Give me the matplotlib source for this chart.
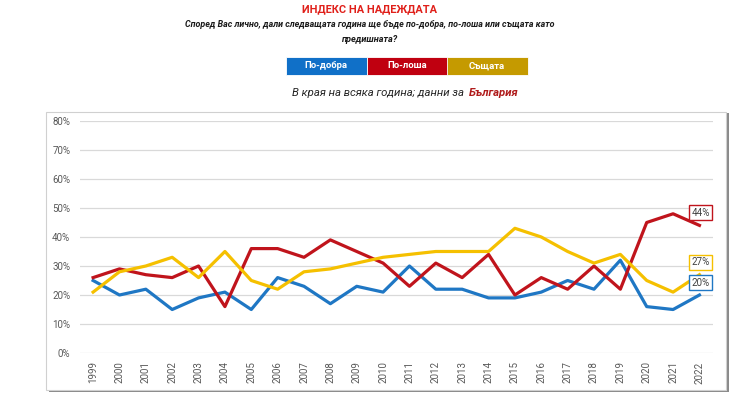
import matplotlib.pyplot as plt
from matplotlib.patches import Rectangle
from matplotlib.ticker import PercentFormatter

plt.rcParams['font.family'] = ['Roboto', 'DejaVu Sans']

years = [str(y) for y in range(1999, 2023)]
po_dobra = [25, 20, 22, 15, 19, 21, 15, 26, 23, 17, 23, 21, 30, 22, 22, 19, 19, 21, 25, 22, 32, 16, 15, 20]
po_losha = [26, 29, 27, 26, 30, 16, 36, 36, 33, 39, 35, 31, 23, 31, 26, 34, 20, 26, 22, 30, 22, 45, 48, 44]
sashtata = [21, 28, 30, 33, 26, 35, 25, 22, 28, 29, 31, 33, 34, 35, 35, 35, 43, 40, 35, 31, 34, 25, 21, 27]

series_names = ['По-добра', 'По-лоша', 'Същата']
line_colors = ['#1F77C4', '#C0141C', '#F5C000']
legend_colors = ['#1070C8', '#C00010', '#C59A00']

fig = plt.figure(figsize=(7.4, 3.94), dpi=100)

# frame around the chart area
fig.patches.append(Rectangle((0.066, 0.004), 0.919, 0.708, transform=fig.transFigure,
                             facecolor='#8a8a8a', edgecolor='none', zorder=-2))
fig.patches.append(Rectangle((0.062, 0.010), 0.919, 0.706, transform=fig.transFigure,
                             facecolor='white', edgecolor='#d0d0d0', linewidth=0.8, zorder=-1))

ax = fig.add_axes([0.108, 0.104, 0.855, 0.589])
ax.set_facecolor('none')
ax.set_zorder(2)

x = range(len(years))
for vals, col in zip([po_dobra, po_losha, sashtata], line_colors):
    ax.plot(x, vals, color=col, linewidth=2.3)

# end labels
for vals, col in zip([po_losha, sashtata, po_dobra], [line_colors[1], line_colors[2], line_colors[0]]):
    ax.annotate(f'{vals[-1]}%', xy=(len(years) - 1, vals[-1]), xytext=(1, 9),
                textcoords='offset points', ha='center', va='center', fontsize=7,
                color='#404040',
                bbox=dict(boxstyle='square,pad=0.25', facecolor='white', edgecolor=col, linewidth=1))

ax.set_xlim(-0.5, len(years) - 0.5)
ax.set_ylim(0, 80)
ax.set_yticks(range(0, 81, 10))
ax.yaxis.set_major_formatter(PercentFormatter(decimals=0))
ax.set_xticks(list(x))
ax.set_xticklabels(years, rotation=90)
ax.tick_params(axis='both', length=0, labelsize=7, labelcolor='#595959')
ax.tick_params(axis='x', pad=6)
ax.tick_params(axis='y', pad=7)
ax.grid(axis='y', color='#d9d9d9', linewidth=0.9)
ax.set_axisbelow(True)
for s in ax.spines.values():
    s.set_visible(False)

# header
fig.text(0.5, 0.977, 'ИНДЕКС НА НАДЕЖДАТА', ha='center', va='center', fontsize=7.9,
         fontweight='bold', color='#E0201A')
fig.text(0.5, 0.937, 'Според Вас лично, дали следващата година ще бъде по-добра, по-лоша или същата като',
         ha='center', va='center', fontsize=6.4, fontweight='bold', style='italic', color='#1a1a1a')
fig.text(0.5, 0.901, 'предишната?', ha='center', va='center', fontsize=6.6, fontweight='bold',
         style='italic', color='#1a1a1a')

# legend boxes
box_left = [286, 367, 447]
for left, name, col in zip(box_left, series_names, legend_colors):
    fig.patches.append(Rectangle((left / 740, 1 - 75 / 394), 80.5 / 740, 18 / 394,
                                 transform=fig.transFigure, facecolor=col, edgecolor='white',
                                 linewidth=0.6))
    fig.text((left + 40) / 740, 1 - 66 / 394, name, ha='center', va='center', fontsize=6.8,
             fontweight='bold', color='white')

fig.text(0.631, 0.764, 'В края на всяка година; данни за ', ha='right', va='center',
         fontsize=8.2, style='italic', color='#262626')
fig.text(0.634, 0.764, 'България', ha='left', va='center', fontsize=8.2, style='italic',
         fontweight='bold', color='#B01C1C')

fig.savefig('out.png', dpi=100)
